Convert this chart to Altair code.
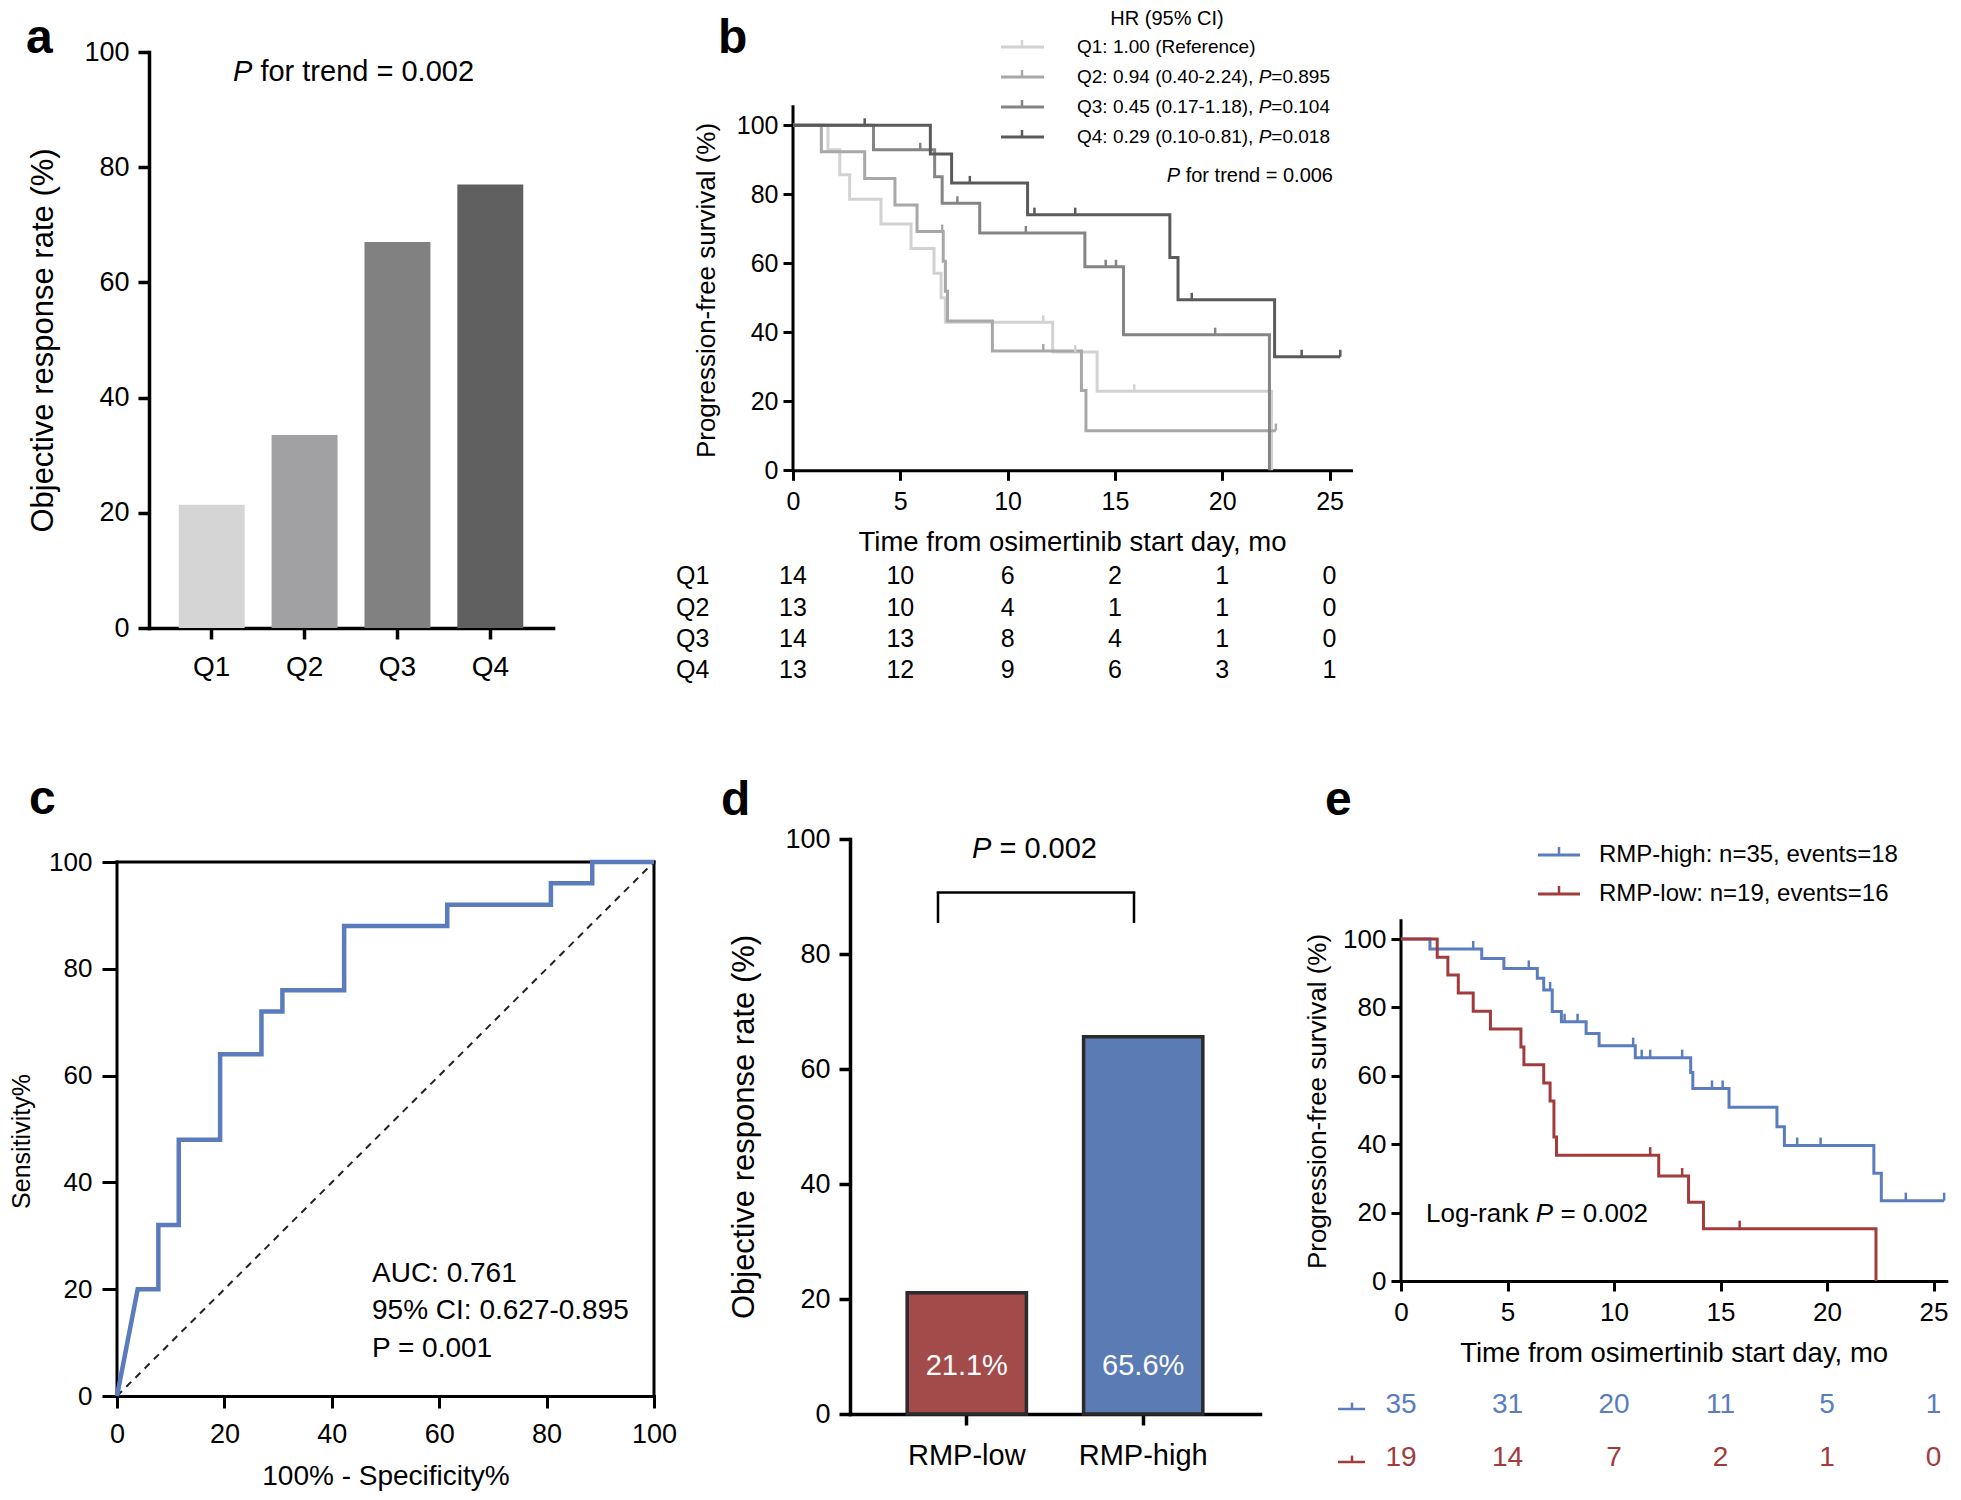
import altair as alt
import pandas as pd

FONT = "Liberation Sans"

# ============================ DATA ============================
# --- panel a: objective response rate by quartile ---
quartiles = ["Q1", "Q2", "Q3", "Q4"]
orr_by_quartile = [21.4, 33.5, 67.0, 77.0]
quartile_bar_colors = ["#d5d5d5", "#a1a1a4", "#818181", "#606060"]
orr_trend_p = "0.002"

# --- panel b: PFS by quartile (step points) ---
q1_time = [0, 1.63, 2.18, 2.64, 4.1, 5.5, 6.57, 6.9, 7.1, 12.1, 14.17, 22.3]
q1_surv = [100, 92.9, 85.7, 78.6, 71.4, 64.3, 57.1, 50.0, 42.9, 34.3, 22.9, 0]
q1_cens_time = [11.66, 13.15, 15.9]
q1_cens_surv = [42.9, 34.3, 22.9]
q2_time = [0, 1.32, 3.34, 4.75, 5.78, 7.0, 7.1, 7.2, 9.29, 13.44, 13.65, 22.5]
q2_surv = [100, 92.3, 84.6, 76.9, 69.2, 60.6, 51.9, 43.3, 34.6, 23.1, 11.5, 11.5]
q2_cens_time = [6.95, 11.66, 22.5]
q2_cens_surv = [69.2, 34.6, 11.5]
q3_time = [0, 3.75, 6.6, 6.95, 8.7, 13.6, 15.4, 22.2]
q3_surv = [100, 92.9, 85.1, 77.4, 68.8, 59.0, 39.3, 0]
q3_cens_time = [5.93, 7.66, 10.85, 14.57, 15.05, 19.67]
q3_cens_surv = [92.9, 77.4, 68.8, 59.0, 59.0, 39.3]
q4_time = [0, 6.4, 7.39, 10.93, 17.56, 17.94, 22.44, 25.5]
q4_surv = [100, 91.7, 83.3, 74.1, 61.7, 49.4, 32.9, 32.9]
q4_cens_time = [3.34, 8.24, 11.25, 13.15, 18.58, 23.7, 25.5]
q4_cens_surv = [100, 83.3, 74.1, 74.1, 49.4, 32.9, 32.9]
quartile_line_colors = ["#d2d2d2", "#a8a8a8", "#858585", "#5a5a5a"]

hr_title = "HR (95% CI)"
hr_prefix = ["Q1: 1.00 (Reference)", "Q2: 0.94 (0.40-2.24), ",
             "Q3: 0.45 (0.17-1.18), ", "Q4: 0.29 (0.10-0.81), "]
hr_p = ["", "0.895", "0.104", "0.018"]
km_trend_p = "0.006"

time_ticks = [0, 5, 10, 15, 20, 25]
risk_q1 = [14, 10, 6, 2, 1, 0]
risk_q2 = [13, 10, 4, 1, 1, 0]
risk_q3 = [14, 13, 8, 4, 1, 0]
risk_q4 = [13, 12, 9, 6, 3, 1]

# --- panel c: ROC ---
roc_fpr = [0, 3.85, 7.7, 7.7, 11.5, 11.5, 19.2, 19.2, 26.9, 26.9, 30.8, 30.8,
           42.3, 42.3, 61.5, 61.5, 80.8, 80.8, 88.5, 88.5, 100]
roc_tpr = [0, 20, 20, 32, 32, 48, 48, 64, 64, 72, 72, 76, 76, 88, 88, 92, 92,
           96, 96, 100, 100]
roc_texts = ["AUC: 0.761", "95% CI: 0.627-0.895", "P = 0.001"]
roc_color = "#5a7cbd"

# --- panel d: ORR by RMP group ---
rmp_groups = ["RMP-low", "RMP-high"]
orr_by_rmp = [21.1, 65.6]
rmp_labels = ["21.1%", "65.6%"]
rmp_colors = ["#a34b4b", "#5b7bb4"]
rmp_p = "0.002"

# --- panel e: PFS by RMP group ---
high_time = [0, 1.36, 3.79, 4.83, 6.4, 6.7, 7.1, 7.53, 8.69, 9.3, 11.0, 13.6,
             13.7, 15.4, 17.65, 18.0, 22.2, 22.55, 25.5]
high_surv = [100, 97.1, 94.3, 91.4, 88.5, 85.1, 78.8, 75.8, 72.4, 68.8, 65.3,
             61.0, 56.3, 50.8, 45.1, 39.6, 31.5, 23.5, 23.5]
high_cens_time = [3.39, 6.0, 7.0, 7.68, 8.29, 10.9, 11.3, 11.7, 13.2, 14.6,
                  15.1, 18.6, 19.7, 23.7, 25.5]
high_cens_surv = [97.1, 91.4, 85.1, 75.8, 75.8, 68.8, 65.3, 65.3, 65.3, 56.3,
                  56.3, 39.6, 39.6, 23.5, 23.5]
low_time = [0, 1.7, 2.2, 2.69, 3.39, 4.2, 5.63, 5.77, 6.7, 7.0, 7.18, 7.3,
            12.1, 13.5, 14.2, 22.3]
low_surv = [100, 94.7, 89.5, 84.2, 78.9, 73.7, 68.4, 63.2, 57.9, 52.6, 42.1,
            36.8, 30.7, 23.0, 15.3, 0]
low_cens_time = [11.7, 13.2, 15.9]
low_cens_surv = [36.8, 30.7, 15.3]
rmp_km_groups = ["RMP-high", "RMP-low"]
rmp_km_colors = ["#5a7dbf", "#a23c3c"]
rmp_legend = ["RMP-high: n=35, events=18", "RMP-low: n=19, events=16"]
risk_high = [35, 31, 20, 11, 5, 1]
risk_low = [19, 14, 7, 2, 1, 0]
logrank_p = "0.002"

# ============================ LAYOUT (reference px) ============================
CELL_LEFT, CELL_TOP, CELL_RIGHT, CELL_BOTTOM = 8, 3, 1948, 1485
ROW_SPLIT = 730
TOP_SPLIT = 610
BOT_SPLIT1, BOT_SPLIT2 = 700, 1280
TOP1, TOP2 = 46, 832          # common plot tops of each row

BOX_A = (148, TOP1, 404, 576)
B_Y0, B_PXY, B_XMAX, B_YTOP = 464.3, 3.45, 26, 105.4
BOX_B = (792, TOP1, 558, B_Y0 - TOP1)
C_Y0, C_PXY = 1389, 5.34
BOX_C = (115, TOP2, 537, C_Y0 - TOP2)
BOX_D = (848, TOP2, 410, 575)
E_Y0, E_PXY, E_XMAX, E_YTOP = 1274, 3.42, 25.6, 105.3
BOX_E = (1399, TOP2, 25.6 * 21.3, E_Y0 - TOP2)

_W = {c: .556 for c in "0123456789"}
_W.update({" ": .278, ".": .278, ",": .278, ":": .278, "(": .333, ")": .333,
           "-": .333, "=": .584, "%": .889})
_W.update(dict(A=.667, B=.667, C=.722, D=.722, E=.667, F=.611, G=.778, H=.722,
               I=.278, J=.5, K=.667, L=.556, M=.833, N=.722, O=.778, P=.667,
               Q=.778, R=.722, S=.667, T=.611, U=.722, V=.667, W=.944))
_W.update(dict(a=.556, b=.556, c=.5, d=.556, e=.556, f=.278, g=.556, h=.556,
               i=.222, j=.222, k=.5, l=.222, m=.833, n=.556, o=.556, p=.556,
               q=.556, r=.333, s=.5, t=.278, u=.556, v=.5, w=.722, x=.5, y=.5,
               z=.5))


def tw(s, fs):
    return sum(_W.get(ch, .556) for ch in s) * fs


AX = dict(domainColor="black", tickColor="black", labelColor="black",
          titleColor="black", labelFont=FONT, titleFont=FONT,
          titleFontWeight="normal", grid=False, labelOverlap=False,
          labelFlush=False, domainCap="square")


def fscale():
    return alt.Scale(domain=[0, 1], nice=False, zero=False)


def fxy(box, px, py):
    L, T, W, H = box
    return (px - L) / W, (T + H - py) / H


def fenc():
    return dict(x=alt.X("x:Q", scale=fscale(), axis=None),
                y=alt.Y("y:Q", scale=fscale(), axis=None))


def ftext(box, px, py, text, fs, **kw):
    fx, fy = fxy(box, px, py)
    df = pd.DataFrame({"x": [fx], "y": [fy], "t": [text]})
    return alt.Chart(df).mark_text(font=FONT, fontSize=fs, color="black", **kw).encode(
        text="t:N", **fenc())


def frule(box, p1, p2, width, cap="butt"):
    x1, y1 = fxy(box, *p1)
    x2, y2 = fxy(box, *p2)
    df = pd.DataFrame({"x": [x1], "y": [y1], "x2": [x2], "y2": [y2]})
    return alt.Chart(df).mark_rule(color="black", strokeWidth=width, strokeCap=cap).encode(
        x2="x2:Q", y2="y2:Q", **fenc())


def annot_group(box, cell, letter, letter_px, extra=()):
    x0, y0 = fxy(box, cell[0], cell[3])
    x1, y1 = fxy(box, cell[2], cell[1])
    fr = pd.DataFrame({"x": [x0], "x2": [x1], "y": [y0], "y2": [y1]})
    frame = alt.Chart(fr).mark_rect(opacity=0).encode(x2="x2:Q", y2="y2:Q", **fenc())
    let = ftext(box, letter_px[0], letter_px[1], letter, 48, fontWeight="bold",
                align="left", baseline="alphabetic")
    return alt.layer(frame, let, *extra)


def panel(main, annot, box):
    return alt.layer(main, annot).resolve_scale(x="independent", y="independent").properties(
        width=box[2], height=box[3])


def spacer():
    df = pd.DataFrame({"x": [0], "x2": [1], "y": [0], "y2": [1]})
    return alt.Chart(df).mark_rect(opacity=0).encode(
        x2="x2:Q", y2="y2:Q", **fenc()).properties(width=1, height=1)


# ============================ PANEL A ============================
df_a = pd.DataFrame({"q": quartiles, "v": orr_by_quartile})
xa = alt.X("q:N", sort=quartiles,
           scale=alt.Scale(domain=quartiles, paddingInner=0.29, paddingOuter=0.32),
           axis=alt.Axis(title=None, labelFontSize=28, labelAngle=0, tickSize=11,
                         labelPadding=14, domainWidth=3.5, tickWidth=3.5, **AX))
ya = alt.Y("v:Q", scale=alt.Scale(domain=[0, 100], nice=False),
           axis=alt.Axis(values=[0, 20, 40, 60, 80, 100], title="Objective response rate (%)",
                         titleFontSize=31, labelFontSize=27, tickSize=11, labelPadding=9,
                         titlePadding=24, domainWidth=3.5, tickWidth=3.5, **AX))
bars_a = alt.Chart(df_a).mark_bar().encode(
    x=xa, y=ya,
    color=alt.Color("q:N", scale=alt.Scale(domain=quartiles, range=quartile_bar_colors), legend=None))
annot_a = annot_group(BOX_A, (CELL_LEFT, CELL_TOP, TOP_SPLIT, ROW_SPLIT), "a", (25, 47), [
    ftext(BOX_A, 232, 66, "P", 29, fontStyle="italic", align="left", baseline="middle"),
    ftext(BOX_A, 232, 66, "for trend = " + orr_trend_p, 29, align="left", baseline="middle",
          dx=tw("P ", 29)),
])
panel_a = panel(alt.layer(bars_a), annot_a, BOX_A)


# ============================ KM helpers ============================
def km_panel(box, y0, pxy, xmax, groups, colors, times, survs, ctimes, csurvs,
             xaxis, yaxis, tick_len, ytop):
    L, T, W, H = box
    ymax = H / pxy

    def dx(px):
        return (px - L) / W * xmax

    def dy(py):
        return (y0 - py) / pxy

    def X(field="x"):
        return alt.X(f"{field}:Q", scale=alt.Scale(domain=[0, xmax], nice=False, zero=False),
                     axis=xaxis)

    def Y(field="y"):
        return alt.Y(f"{field}:Q", scale=alt.Scale(domain=[0, ymax], nice=False, zero=False),
                     axis=yaxis)

    def C():
        return alt.Color("g:N", scale=alt.Scale(domain=groups, range=colors), legend=None)

    ydom = alt.Chart(pd.DataFrame({"x": [0], "y": [0], "y2": [ytop]})).mark_rule(
        color="black", strokeWidth=3, strokeCap="square").encode(x=X(), y=Y(), y2="y2:Q")
    rows = []
    for g, ts, ss in zip(groups, times, survs):
        for i, (t, s) in enumerate(zip(ts, ss)):
            rows.append({"x": t, "y": s, "g": g, "o": i})
    lines = alt.Chart(pd.DataFrame(rows)).mark_line(
        interpolate="step-after", strokeWidth=3).encode(x=X(), y=Y(), color=C(), order="o:Q")
    crow = []
    for g, ts, ss in zip(groups, ctimes, csurvs):
        for t, s in zip(ts, ss):
            crow.append({"x": t, "y": s, "y2": s + tick_len, "g": g})
    cens = alt.Chart(pd.DataFrame(crow)).mark_rule(strokeWidth=2.5).encode(
        x=X(), y=Y(), y2="y2:Q", color=C())
    return dict(dx=dx, dy=dy, X=X, Y=Y, C=C, layers=[ydom, lines, cens])


def dtext(k, rows, fs, color=False, **kw):
    df = pd.DataFrame(rows)
    enc = dict(x=k["X"](), y=k["Y"](), text="t:N")
    if color:
        enc["color"] = k["C"]()
        return alt.Chart(df).mark_text(font=FONT, fontSize=fs, **kw).encode(**enc)
    return alt.Chart(df).mark_text(font=FONT, fontSize=fs, color="black", **kw).encode(**enc)


def legend_symbols(k, rows, tick_len, width):
    df = pd.DataFrame(rows)
    df["y2"] = df["y"] + tick_len
    line = alt.Chart(df).mark_rule(strokeWidth=width).encode(
        x=k["X"](), x2="x2:Q", y=k["Y"](), color=k["C"]())
    tick = alt.Chart(df).mark_rule(strokeWidth=2.5).encode(
        x=k["X"]("xm"), y=k["Y"](), y2="y2:Q", color=k["C"]())
    return [line, tick]


# ============================ PANEL B ============================
ax_xb = alt.Axis(values=time_ticks, title="Time from osimertinib start day, mo",
                 titleFontSize=27.5, labelFontSize=25, tickSize=10, labelPadding=9,
                 titlePadding=14, domainWidth=3, tickWidth=3, **AX)
ax_yb = alt.Axis(values=[0, 20, 40, 60, 80, 100], title="Progression-free survival (%)",
                 titleFontSize=26, labelFontSize=25, tickSize=10, labelPadding=5,
                 titlePadding=17, titleY=238, domain=False, tickWidth=3, **AX)
TICK_B = 7 / B_PXY
kb = km_panel(BOX_B, B_Y0, B_PXY, B_XMAX, quartiles, quartile_line_colors,
              [q1_time, q2_time, q3_time, q4_time], [q1_surv, q2_surv, q3_surv, q4_surv],
              [q1_cens_time, q2_cens_time, q3_cens_time, q4_cens_time],
              [q1_cens_surv, q2_cens_surv, q3_cens_surv, q4_cens_surv],
              ax_xb, ax_yb, TICK_B, B_YTOP)
bx, by = kb["dx"], kb["dy"]
LEG_FS_B = 19
leg_y_px = [41, 71, 101, 131]
leg_rows = [{"x": bx(1000), "x2": bx(1043), "xm": bx(1021), "y": by(py), "g": g}
            for py, g in zip(leg_y_px, quartiles)]
b_layers = list(kb["layers"])
b_layers += legend_symbols(kb, leg_rows, TICK_B, 3)
b_layers.append(dtext(kb, [{"x": bx(1166), "y": by(12.5), "t": hr_title}], 20,
                      align="center", baseline="middle"))
b_layers.append(dtext(kb, [{"x": bx(1076), "y": by(py), "t": t}
                           for py, t in zip(leg_y_px, hr_prefix)], LEG_FS_B,
                      align="left", baseline="middle"))
pre_w = tw(hr_prefix[1], LEG_FS_B)
b_layers.append(dtext(kb, [{"x": bx(1076), "y": by(py), "t": "P"}
                           for py, p in zip(leg_y_px, hr_p) if p], LEG_FS_B,
                      align="left", baseline="middle", fontStyle="italic", dx=pre_w))
b_layers.append(dtext(kb, [{"x": bx(1076), "y": by(py), "t": "=" + p}
                           for py, p in zip(leg_y_px, hr_p) if p], LEG_FS_B,
                      align="left", baseline="middle", dx=pre_w + tw("P", LEG_FS_B)))
trend_rest = "for trend = " + km_trend_p
b_layers.append(dtext(kb, [{"x": bx(1332), "y": by(170), "t": trend_rest}], 20,
                      align="right", baseline="middle"))
b_layers.append(dtext(kb, [{"x": bx(1332), "y": by(170), "t": "P"}], 20,
                      align="right", baseline="middle", fontStyle="italic",
                      dx=-tw(" " + trend_rest, 20)))
risk_rows_y = [570.3, 601.5, 632.8, 664.1]
risk_all = [risk_q1, risk_q2, risk_q3, risk_q4]
rrows = []
for py, rk in zip(risk_rows_y, risk_all):
    for t, n in zip(time_ticks, rk):
        rrows.append({"x": t, "y": by(py), "t": str(n)})
b_layers.append(dtext(kb, rrows, 25, align="center", baseline="middle"))
b_layers.append(dtext(kb, [{"x": bx(675), "y": by(py), "t": q}
                           for py, q in zip(risk_rows_y, quartiles)], 25,
                      align="left", baseline="middle"))
annot_b = annot_group(BOX_B, (TOP_SPLIT, CELL_TOP, CELL_RIGHT, ROW_SPLIT), "b", (717, 47))
panel_b = panel(alt.layer(*b_layers), annot_b, BOX_B)

# ============================ PANEL C ============================
ax_xc = alt.Axis(values=[0, 20, 40, 60, 80, 100], title="100% - Specificity%",
                 titleFontSize=28, labelFontSize=27, tickSize=12, labelPadding=13,
                 titlePadding=15, domainWidth=3, tickWidth=3, **AX)
ax_yc = alt.Axis(values=[0, 20, 40, 60, 80, 100], title="Sensitivity%",
                 titleFontSize=25, labelFontSize=26, tickSize=15, labelPadding=10,
                 titlePadding=14, titleY=302, domain=False, tickWidth=3, **AX)
C_YMAX = BOX_C[3] / C_PXY


def XC():
    return alt.X("x:Q", scale=alt.Scale(domain=[0, 100], nice=False, zero=False), axis=ax_xc)


def YC():
    return alt.Y("y:Q", scale=alt.Scale(domain=[0, C_YMAX], nice=False, zero=False), axis=ax_yc)


def cx(px):
    return (px - BOX_C[0]) / BOX_C[2] * 100


def cy(py):
    return (C_Y0 - py) / C_PXY


df_box = pd.DataFrame({"x": [0, 0, 100], "x2": [0, 100, 100],
                       "y": [0, 100, 0], "y2": [100, 100, 100]})
box_c = alt.Chart(df_box).mark_rule(color="black", strokeWidth=3, strokeCap="square").encode(
    x=XC(), y=YC(), x2="x2:Q", y2="y2:Q")
diag = alt.Chart(pd.DataFrame({"x": [0, 100], "y": [0, 100]})).mark_line(
    color="#222222", strokeWidth=2, strokeDash=[7, 6]).encode(x=XC(), y=YC())
df_roc = pd.DataFrame({"x": roc_fpr, "y": roc_tpr, "o": list(range(len(roc_fpr)))})
roc = alt.Chart(df_roc).mark_line(color=roc_color, strokeWidth=4.5).encode(
    x=XC(), y=YC(), order="o:Q")
roc_txt = alt.Chart(pd.DataFrame({"x": [cx(370)] * 3, "y": [cy(1267), cy(1304), cy(1342)],
                                  "t": roc_texts})).mark_text(
    font=FONT, fontSize=28, align="left", baseline="middle", color="black").encode(
    x=XC(), y=YC(), text="t:N")
annot_c = annot_group(BOX_C, (CELL_LEFT, ROW_SPLIT, BOT_SPLIT1, CELL_BOTTOM), "c", (27, 807))
panel_c = panel(alt.layer(box_c, diag, roc, roc_txt), annot_c, BOX_C)

# ============================ PANEL D ============================
df_d = pd.DataFrame({"g": rmp_groups, "v": orr_by_rmp, "t": rmp_labels})
xd = alt.X("g:N", sort=rmp_groups,
           scale=alt.Scale(domain=rmp_groups, paddingInner=0.324, paddingOuter=0.324),
           axis=alt.Axis(title=None, labelFontSize=29, labelAngle=0, tickSize=11,
                         labelPadding=16, domainWidth=3.5, tickWidth=3.5, **AX))
yd = alt.Y("v:Q", scale=alt.Scale(domain=[0, 100], nice=False),
           axis=alt.Axis(values=[0, 20, 40, 60, 80, 100], title="Objective response rate (%)",
                         titleFontSize=31, labelFontSize=27, tickSize=11, labelPadding=9,
                         titlePadding=24, domainWidth=3.5, tickWidth=3.5, **AX))
bars_d = alt.Chart(df_d).mark_bar(stroke="#2b2b2b", strokeWidth=3.5).encode(
    x=xd, y=yd,
    color=alt.Color("g:N", scale=alt.Scale(domain=rmp_groups, range=rmp_colors), legend=None))
lab_d = alt.Chart(df_d).mark_text(font=FONT, fontSize=29, color="white", baseline="middle").encode(
    x=xd, y=alt.datum(8.3), text="t:N")
p_left = 970
D_PX = BOX_D[3] / 100
D_BOT = BOX_D[1] + BOX_D[3]
annot_d = annot_group(BOX_D, (BOT_SPLIT1, ROW_SPLIT, BOT_SPLIT2, CELL_BOTTOM), "d", (719, 808), [
    frule(BOX_D, (936, D_BOT - 90.7 * D_PX), (1132, D_BOT - 90.7 * D_PX), 2.5, "square"),
    frule(BOX_D, (936, D_BOT - 90.7 * D_PX), (936, D_BOT - 85.4 * D_PX), 2.5),
    frule(BOX_D, (1132, D_BOT - 90.7 * D_PX), (1132, D_BOT - 85.4 * D_PX), 2.5),
    ftext(BOX_D, p_left, D_BOT - 98.2 * D_PX, "P", 29, fontStyle="italic", align="left",
          baseline="middle"),
    ftext(BOX_D, p_left, D_BOT - 98.2 * D_PX, "= " + rmp_p, 29, align="left",
          baseline="middle", dx=tw("P ", 29)),
])
panel_d = panel(alt.layer(bars_d, lab_d), annot_d, BOX_D)

# ============================ PANEL E ============================
ax_xe = alt.Axis(values=time_ticks, title="Time from osimertinib start day, mo",
                 titleFontSize=27.5, labelFontSize=26, tickSize=10, labelPadding=8,
                 titlePadding=14, domainWidth=3, tickWidth=3, **AX)
ax_ye = alt.Axis(values=[0, 20, 40, 60, 80, 100], title="Progression-free survival (%)",
                 titleFontSize=26, labelFontSize=26, tickSize=10, labelPadding=5,
                 titlePadding=12, titleY=262, domain=False, tickWidth=3, **AX)
TICK_E = 8 / E_PXY
ke = km_panel(BOX_E, E_Y0, E_PXY, E_XMAX, rmp_km_groups, rmp_km_colors,
              [high_time, low_time], [high_surv, low_surv],
              [high_cens_time, low_cens_time], [high_cens_surv, low_cens_surv],
              ax_xe, ax_ye, TICK_E, E_YTOP)
ex, ey = ke["dx"], ke["dy"]
e_layers = list(ke["layers"])
leg_e_y = [848, 887]
e_layers += legend_symbols(ke, [{"x": ex(1536), "x2": ex(1578), "xm": ex(1557), "y": ey(py), "g": g}
                                for py, g in zip(leg_e_y, rmp_km_groups)], TICK_E, 3)
e_layers.append(dtext(ke, [{"x": ex(1597), "y": ey(py), "t": t}
                           for py, t in zip(leg_e_y, rmp_legend)], 24,
                      align="left", baseline="middle"))
lr_fs = 26
e_layers.append(dtext(ke, [{"x": ex(1424), "y": ey(1207), "t": "Log-rank"}], lr_fs,
                      align="left", baseline="middle"))
e_layers.append(dtext(ke, [{"x": ex(1424), "y": ey(1207), "t": "P"}], lr_fs,
                      align="left", baseline="middle", fontStyle="italic",
                      dx=tw("Log-rank ", lr_fs)))
e_layers.append(dtext(ke, [{"x": ex(1424), "y": ey(1207), "t": "= " + logrank_p}], lr_fs,
                      align="left", baseline="middle", dx=tw("Log-rank P ", lr_fs)))
risk_e_y = [1398, 1451]
erows = []
for py, g, rk in zip(risk_e_y, rmp_km_groups, [risk_high, risk_low]):
    for t, n in zip(time_ticks, rk):
        erows.append({"x": t, "y": ey(py), "t": str(n), "g": g})
e_layers.append(dtext(ke, erows, 28, color=True, align="center", baseline="middle"))
e_layers += legend_symbols(ke, [{"x": ex(1336), "x2": ex(1363), "xm": ex(1350), "y": ey(py + 4), "g": g}
                                for py, g in zip(risk_e_y, rmp_km_groups)], TICK_E * 0.8, 2.5)
annot_e = annot_group(BOX_E, (BOT_SPLIT2, ROW_SPLIT, CELL_RIGHT, CELL_BOTTOM), "e", (1323, 808))
panel_e = panel(alt.layer(*e_layers), annot_e, BOX_E)

# ============================ ASSEMBLE ============================
row1 = alt.hconcat(spacer(), panel_a, panel_b, spacing=0).resolve_scale(color="independent")
row2 = alt.hconcat(spacer(), panel_c, panel_d, panel_e, spacing=0).resolve_scale(
    color="independent")
chart = alt.vconcat(row1, row2, spacing=0).resolve_scale(color="independent").properties(
    padding=0).configure_view(stroke=None).configure_text(font=FONT)

chart.save("out.html", embed_options={"renderer": "svg", "actions": False})
